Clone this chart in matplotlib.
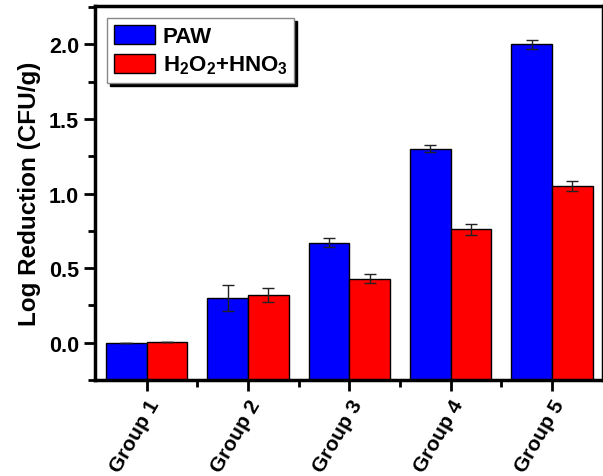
import numpy as np
import matplotlib.pyplot as plt
from matplotlib.ticker import MultipleLocator

# --------------------------------------------------
# Data
# --------------------------------------------------
groups = ["Group 1", "Group 2", "Group 3", "Group 4", "Group 5"]
paw = [0.0, 0.30, 0.67, 1.30, 2.00]
paw_err = [0.0, 0.085, 0.03, 0.025, 0.03]
h2o2 = [0.005, 0.32, 0.43, 0.76, 1.05]
h2o2_err = [0.0, 0.045, 0.03, 0.035, 0.033]

plt.rcParams["font.family"] = ["Liberation Sans", "DejaVu Sans"]
plt.rcParams["font.weight"] = "bold"
plt.rcParams["mathtext.fontset"] = "custom"
plt.rcParams["mathtext.bf"] = "Liberation Sans:bold"

# --------------------------------------------------
# Plot
# --------------------------------------------------
fig = plt.figure(figsize=(6.03, 4.77), dpi=100)
ax = fig.add_axes([0.1575, 0.201, 0.842, 0.784])

ymin, ymax = -0.25, 2.255
x = np.arange(1, len(groups) + 1)
w = 0.4
err_kw = dict(ecolor="#222222", elinewidth=1, capsize=4, capthick=1)

# bars start at the bottom of the axis, as in the original
ax.bar(x - w / 2, np.array(paw) - ymin, w, bottom=ymin, yerr=paw_err,
       color="#0000ff", edgecolor="black", linewidth=1, error_kw=err_kw, label="PAW")
ax.bar(x + w / 2, np.array(h2o2) - ymin, w, bottom=ymin, yerr=h2o2_err,
       color="#ff0000", edgecolor="black", linewidth=1, error_kw=err_kw,
       label=r"H$_\mathbf{2}$O$_\mathbf{2}$+HNO$_\mathbf{3}$")

ax.set_xlim(0.49, 5.5)
ax.set_ylim(ymin, ymax)
ax.set_xticks(x)
ax.set_xticklabels(groups, rotation=60, ha="right", rotation_mode="anchor",
                   fontsize=15, fontweight="bold")
ax.set_xticks(np.arange(1.5, 5.5, 1), minor=True)
ax.set_yticks([0.0, 0.5, 1.0, 1.5, 2.0])
ax.set_yticklabels(["0.0", "0.5", "1.0", "1.5", "2.0"], fontsize=15.5, fontweight="bold")
ax.yaxis.set_minor_locator(MultipleLocator(0.25))

ax.tick_params(which="major", direction="out", length=8, width=2)
ax.tick_params(which="minor", direction="out", length=5, width=2)
for s in ax.spines.values():
    s.set_linewidth(2.5)

ax.set_ylabel("Log Reduction (CFU/g)", fontsize=17.5, fontweight="bold", labelpad=6)

leg = ax.legend(loc="upper left", bbox_to_anchor=(0.015, 0.98), fontsize=16,
                frameon=True, fancybox=False,
                shadow={"color": "black", "alpha": 1.0}, edgecolor="#888888",
                framealpha=1.0, handlelength=1.85, handleheight=0.95, borderpad=0.3,
                labelspacing=0.3, handletextpad=0.35, borderaxespad=0.2)
leg.get_frame().set_linewidth(1)

fig.savefig("out.png", dpi=100)
